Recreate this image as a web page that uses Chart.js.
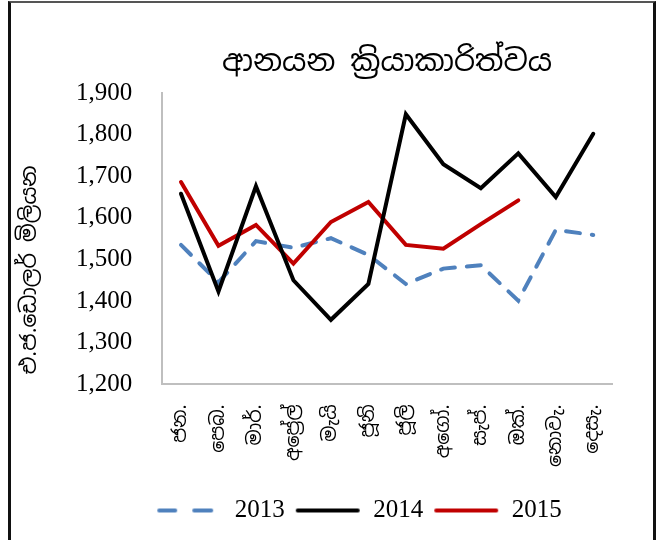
<!DOCTYPE html>
<html>
<head>
<meta charset="utf-8">
<script src="https://cdn.jsdelivr.net/npm/chart.js@4/dist/chart.umd.min.js"></script>
<style>
  html, body { margin: 0; padding: 0; background: #fff; }
  #wrap { position: relative; width: 664px; height: 540px; }
  #frame { position: absolute; left: 8px; top: 1px; width: 642px; height: 545px;
           border-left: 3px solid #111; border-top: 2px solid #555; border-right: 3px solid #111;
           pointer-events: none; }
  canvas { position: absolute; left: 0; top: 0; }
</style>
</head>
<body>
<div id="wrap">
  <canvas id="c" width="664" height="540"></canvas>
  <div id="frame"></div>
</div>
<script>
const months = ['ජන.', 'පෙබ.', 'මාර්.', 'අප්‍රේල්', 'මැයි', 'ජූනි', 'ජූලි', 'අගෝ.', 'සැප්.', 'ඔක්.', 'නොවැ.', 'දෙසැ.'];
const seriesNames = ['2013', '2014', '2015'];
const values2013 = [1535, 1445, 1544, 1528, 1551, 1511, 1441, 1478, 1486, 1401, 1571, 1559];
const values2014 = [1658, 1423, 1676, 1450, 1355, 1441, 1849, 1729, 1671, 1755, 1650, 1802];
const values2015 = [1686, 1533, 1583, 1490, 1590, 1638, 1535, 1526, 1585, 1642, null, null];
const titleText = 'ආනයන ක්‍රියාකාරිත්වය';
const yTitleText = 'එ.ජ.ඩොලර් මිලියන';

const sinhalaFont = "'Noto Sans Sinhala', 'Iskoola Pota', 'Noto Sans', sans-serif";
const serifFont = "'Liberation Serif', 'DejaVu Serif', serif";
const blue = '#4F81BD', black = '#000000', red = '#C00000';

// legend symbols drawn as small images (dashed for 2013)
function legendLine(color, dashed) {
  const cv = document.createElement('canvas');
  cv.width = 66; cv.height = 8;
  const g = cv.getContext('2d');
  g.strokeStyle = color; g.lineWidth = 4; g.lineCap = 'round';
  g.beginPath();
  if (dashed) {
    g.moveTo(3, 4); g.lineTo(19, 4);
    g.moveTo(38, 4); g.lineTo(55, 4);
  } else {
    g.moveTo(3, 4); g.lineTo(63, 4);
  }
  g.stroke();
  return cv;
}

const helperPlugin = {
  id: 'helper',
  afterLayout(chart) {
    const lg = chart.legend;
    if (lg) { lg.left -= 16; lg.right -= 16; if (lg.adjustHitBoxes) lg.adjustHitBoxes(); }
  },
  afterDraw(chart) {
    const ctx = chart.ctx;
    ctx.save();
    ctx.translate(30, 270);
    ctx.rotate(-Math.PI / 2);
    ctx.fillStyle = '#000';
    ctx.font = "22px " + sinhalaFont;
    ctx.textAlign = 'center';
    ctx.textBaseline = 'middle';
    ctx.fillText(yTitleText, 0, 0);
    ctx.restore();
  }
};

new Chart(document.getElementById('c'), {
  type: 'line',
  data: {
    labels: months,
    datasets: [
      { label: seriesNames[0], data: values2013, borderColor: blue, backgroundColor: blue,
        borderWidth: 4, borderDash: [14, 12], borderCapStyle: 'round', pointRadius: 0, order: 3, tension: 0,
        pointStyle: legendLine(blue, true) },
      { label: seriesNames[1], data: values2014, borderColor: black, backgroundColor: black,
        borderWidth: 4, borderCapStyle: 'round', pointRadius: 0, order: 1, tension: 0,
        pointStyle: legendLine(black, false) },
      { label: seriesNames[2], data: values2015, borderColor: red, backgroundColor: red,
        borderWidth: 4, borderCapStyle: 'round', pointRadius: 0, order: 2, tension: 0,
        pointStyle: legendLine(red, false) }
    ]
  },
  options: {
    responsive: false,
    animation: false,
    layout: { padding: { left: 46, right: 52, top: 45, bottom: 7 } },
    plugins: {
      tooltip: { enabled: false },
      title: {
        display: true, text: titleText, fullSize: false, color: '#000',
        font: { family: sinhalaFont, size: 30, weight: 'normal' }, padding: { top: 0, bottom: 12 }
      },
      legend: {
        position: 'bottom', align: 'start', fullSize: false,
        labels: {
          usePointStyle: true, pointStyleWidth: 66, padding: 10,
          color: '#000', font: { family: serifFont, size: 25 },
          sort: (a, b) => a.datasetIndex - b.datasetIndex
        }
      }
    },
    scales: {
      x: {
        offset: true,
        grid: { display: false, drawTicks: false },
        border: { display: true, color: '#BFBFBF', width: 2 },
        ticks: { minRotation: 90, maxRotation: 90, padding: 20, color: '#000',
                 font: { family: sinhalaFont, size: 19 } },
        afterFit(scale) { scale.height += 1; }
      },
      y: {
        min: 1200, max: 1900,
        grid: { display: false, drawTicks: false },
        border: { display: true, color: '#BFBFBF', width: 2 },
        ticks: { stepSize: 100, padding: 30, color: '#000',
                 font: { family: serifFont, size: 25 },
                 callback: (v) => Number(v).toLocaleString('en-US') }
      }
    }
  },
  plugins: [helperPlugin]
});
</script>
</body>
</html>
